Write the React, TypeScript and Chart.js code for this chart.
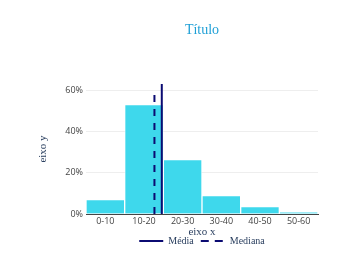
import React, { useEffect, useRef } from "react";
import { Chart, registerables } from "chart.js";

Chart.register(...registerables);

const categories = ["0-10", "10-20", "20-30", "30-40", "40-50", "50-60"];
const percentages = [7.0, 53.2, 26.5, 9.0, 3.6, 0.8];
const meanValue = 19.6;
const medianValue = 17.7;
const meanLineTop = 63.2;
const medianLineTop = 59.5;
const yTicks = [0, 20, 40, 60];
const binRange = [0, 60];

const serif = "'Liberation Serif', 'Times New Roman', serif";
const sans = "'Open Sans', 'DejaVu Sans', sans-serif";

// Center title and legend over the plot area (as the reference does)
const centerOnPlot = {
  id: "centerOnPlot",
  afterLayout(chart: any) {
    const a = chart.chartArea;
    if (chart.legend) {
      chart.legend.left = a.left;
      chart.legend.right = a.right;
      chart.legend.width = a.right - a.left;
    }
    if (chart.titleBlock) {
      chart.titleBlock.left = a.left;
      chart.titleBlock.right = a.right;
      chart.titleBlock.width = a.right - a.left;
    }
  },
};

export default function App() {
  const ref = useRef<HTMLCanvasElement | null>(null);

  useEffect(() => {
    if (!ref.current) return;
    const defaultGen = (Chart.defaults as any).plugins.legend.labels.generateLabels;
    const chart = new Chart(ref.current, {
      type: "bar",
      plugins: [centerOnPlot],
      data: {
        labels: categories,
        datasets: [
          {
            label: "hist",
            data: percentages,
            backgroundColor: "#3ed8ec",
            borderColor: "rgba(255,255,255,0.6)",
            borderWidth: 1,
            barPercentage: 1,
            categoryPercentage: 1,
            grouped: false,
            order: 3,
          } as any,
          {
            type: "line",
            label: "Média",
            data: [
              { x: meanValue, y: 0 },
              { x: meanValue, y: meanLineTop },
            ],
            xAxisID: "x2",
            borderColor: "#0b0b72",
            backgroundColor: "#0b0b72",
            borderWidth: 2,
            pointRadius: 0,
            fill: false,
            order: 1,
          } as any,
          {
            type: "line",
            label: "Mediana",
            data: [
              { x: medianValue, y: 0 },
              { x: medianValue, y: medianLineTop },
            ],
            xAxisID: "x2",
            borderColor: "#0b0b72",
            backgroundColor: "#0b0b72",
            borderWidth: 2,
            borderDash: [7, 7],
            pointRadius: 0,
            fill: false,
            order: 2,
          } as any,
        ],
      },
      options: {
        responsive: false,
        animation: false,
        layout: { padding: { left: 30, right: 40, top: 0, bottom: 0 } },
        plugins: {
          tooltip: { enabled: false },
          title: {
            display: true,
            text: "Título",
            color: "#1e9fd6",
            font: { family: serif, size: 14, weight: "normal" },
            padding: { top: 22, bottom: 45.2 },
          },
          legend: {
            display: true,
            position: "bottom",
            labels: {
              filter: (item: any) => item.datasetIndex !== 0,
              generateLabels: (c: any) =>
                defaultGen(c).map((it: any) => {
                  const ds = c.data.datasets[it.datasetIndex];
                  return { ...it, lineDash: ds.borderDash ? [8, 6] : [], lineWidth: 2 };
                }),
              usePointStyle: true,
              pointStyle: "line",
              pointStyleWidth: 24,
              padding: 7,
              color: "#2a3f5f",
              font: { family: serif, size: 10 },
            },
          },
        },
        scales: {
          x: {
            type: "category",
            offset: true,
            grid: { display: false, drawTicks: false },
            border: { display: true, color: "#444", width: 1 },
            ticks: { color: "#444", padding: 2, font: { family: sans, size: 9 } },
            title: {
              display: true,
              text: "eixo x",
              color: "#2a3f5f",
              font: { family: serif, size: 11 },
              padding: { top: 0, bottom: -9.5 },
            },
            afterFit: (s: any) => {
              s.height = 15;
            },
          },
          x2: {
            type: "linear",
            display: false,
            min: binRange[0],
            max: binRange[1],
            offset: false,
          },
          y: {
            min: 0,
            max: meanLineTop,
            grid: { color: "#eeeeee", drawTicks: false },
            border: { display: false },
            afterBuildTicks: (s: any) => {
              s.ticks = yTicks.map((v) => ({ value: v }));
            },
            ticks: {
              color: "#444",
              padding: 3,
              font: { family: sans, size: 9 },
              callback: (v: any) => v + "%",
            },
            title: {
              display: true,
              text: "eixo y",
              color: "#2a3f5f",
              font: { family: serif, size: 11 },
              padding: { top: 6.4, bottom: 0 },
            },
            afterFit: (s: any) => {
              s.width = 56;
            },
          },
        },
      } as any,
    });
    return () => chart.destroy();
  }, []);

  return (
    <div style={{ position: "fixed", left: 0, top: 0, width: 358, height: 256, background: "#fff" }}>
      <canvas ref={ref} width={358} height={256} />
    </div>
  );
}
